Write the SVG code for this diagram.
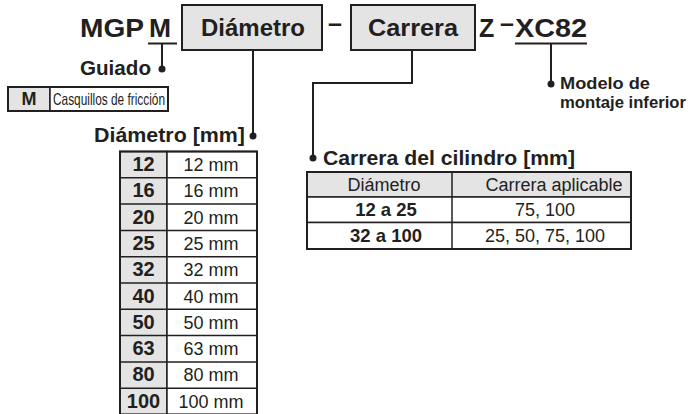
<svg xmlns="http://www.w3.org/2000/svg" width="692" height="414" viewBox="0 0 692 414">
<style>
text{font-family:"Liberation Sans",Arial,sans-serif;fill:#231f20}
.b{font-weight:bold}
.t{font-size:25px;font-weight:bold}
.lbl{font-size:20px;font-weight:bold}
.box{fill:#e4e4e4;stroke:#231f20;stroke-width:2}
.cell{fill:#fff;stroke:#231f20;stroke-width:1.5}
.gcell{fill:#e4e4e4;stroke:#231f20;stroke-width:1.5}
.outer{fill:none;stroke:#231f20;stroke-width:2}
.ln{stroke:#231f20;stroke-width:2;fill:none}
.dot{fill:#231f20}
.num{font-size:20px;font-weight:bold;text-anchor:middle}
.mm{font-size:18px;text-anchor:middle}
</style>
<g id="title">
<text class="t" x="80" y="36.5" textLength="64" lengthAdjust="spacingAndGlyphs">MGP</text>
<text class="t" x="149" y="36.5" textLength="22" lengthAdjust="spacingAndGlyphs">M</text>
<text class="t" x="328" y="32">–</text>
<text class="t" x="479" y="36.5">Z</text>
<text class="t" x="500" y="32">–</text>
<text class="t" x="515" y="36.5" textLength="72" lengthAdjust="spacingAndGlyphs">XC82</text>
</g>
<g id="box-diametro">
<rect class="box" x="182" y="5" width="140" height="45"/>
<text class="t" x="253" y="36" text-anchor="middle" style="font-size:23px" textLength="104" lengthAdjust="spacingAndGlyphs">Diámetro</text>
</g>
<g id="box-carrera">
<rect class="box" x="351" y="5" width="124" height="45"/>
<text class="t" x="413" y="36" text-anchor="middle" style="font-size:23px" textLength="90" lengthAdjust="spacingAndGlyphs">Carrera</text>
</g>
<g id="connectors">
<line class="ln" x1="148" y1="43.5" x2="177" y2="43.5"/>
<line class="ln" x1="162" y1="43.5" x2="162" y2="69"/>
<circle class="dot" cx="162" cy="69" r="3.5"/>
<line class="ln" x1="515" y1="43.5" x2="587" y2="43.5"/>
<line class="ln" x1="551" y1="43.5" x2="551" y2="84"/>
<circle class="dot" cx="551" cy="84" r="3.5"/>
<line class="ln" x1="253" y1="50" x2="253" y2="136"/>
<circle class="dot" cx="253" cy="136" r="3.5"/>
<polyline class="ln" points="412,50 412,83 313,83 313,158"/>
<circle class="dot" cx="313" cy="158" r="3.5"/>
</g>
<g id="guiado">
<text class="lbl" x="151" y="75" text-anchor="end" textLength="71" lengthAdjust="spacingAndGlyphs">Guiado</text>
<rect class="gcell" x="8" y="87" width="42" height="24"/>
<rect class="cell" x="50" y="87" width="118" height="24"/>
<rect class="outer" x="8" y="87" width="160" height="24"/>
<text class="b" x="29" y="105" style="font-size:18px" text-anchor="middle">M</text>
<text x="53" y="105" style="font-size:16.5px" textLength="112" lengthAdjust="spacingAndGlyphs">Casquillos de fricción</text>
</g>
<g id="modelo">
<text class="b" x="560" y="89" style="font-size:17px" textLength="90" lengthAdjust="spacingAndGlyphs">Modelo de</text>
<text class="b" x="560" y="108" style="font-size:17px" textLength="126" lengthAdjust="spacingAndGlyphs">montaje inferior</text>
</g>
<g id="diametro-table">
<text class="lbl" x="245" y="142" text-anchor="end" textLength="151" lengthAdjust="spacingAndGlyphs">Diámetro [mm]</text>
<g>
<rect class="gcell" x="120" y="151.5" width="47" height="263"/>
<rect class="cell" x="167" y="151.5" width="90" height="263"/>
<path class="ln" style="stroke-width:1.5" d="M120 177.8H257M120 204.1H257M120 230.4H257M120 256.7H257M120 283H257M120 309.3H257M120 335.6H257M120 361.9H257M120 388.2H257"/>
<rect class="outer" x="120" y="151.5" width="137" height="263"/>
</g>
<text class="num" x="143.5" y="171">12</text><text class="mm" x="211" y="171">12 mm</text>
<text class="num" x="143.5" y="197.3">16</text><text class="mm" x="211" y="197.3">16 mm</text>
<text class="num" x="143.5" y="223.6">20</text><text class="mm" x="211" y="223.6">20 mm</text>
<text class="num" x="143.5" y="249.9">25</text><text class="mm" x="211" y="249.9">25 mm</text>
<text class="num" x="143.5" y="276.2">32</text><text class="mm" x="211" y="276.2">32 mm</text>
<text class="num" x="143.5" y="302.5">40</text><text class="mm" x="211" y="302.5">40 mm</text>
<text class="num" x="143.5" y="328.8">50</text><text class="mm" x="211" y="328.8">50 mm</text>
<text class="num" x="143.5" y="355.1">63</text><text class="mm" x="211" y="355.1">63 mm</text>
<text class="num" x="143.5" y="381.4">80</text><text class="mm" x="211" y="381.4">80 mm</text>
<text class="num" x="143.5" y="407.7">100</text><text class="mm" x="211" y="407.7">100 mm</text>
</g>
<g id="carrera-table">
<text class="lbl" x="323" y="165" textLength="252" lengthAdjust="spacingAndGlyphs">Carrera del cilindro [mm]</text>
<rect class="gcell" x="307" y="172" width="324" height="25"/>
<rect class="cell" x="307" y="197" width="324" height="25.5"/>
<rect class="cell" x="307" y="222.5" width="324" height="26.5"/>
<line class="ln" style="stroke-width:1.5" x1="452" y1="172" x2="452" y2="249"/>
<rect class="outer" x="307" y="172" width="324" height="77"/>
<text x="384" y="191" style="font-size:18px" text-anchor="middle">Diámetro</text>
<text x="554" y="191" style="font-size:18px" text-anchor="middle">Carrera aplicable</text>
<text class="b" x="386" y="216" style="font-size:18.5px" text-anchor="middle">12 a 25</text>
<text x="545" y="216" style="font-size:18px" text-anchor="middle">75, 100</text>
<text class="b" x="386" y="242" style="font-size:18.5px" text-anchor="middle">32 a 100</text>
<text x="545" y="242" style="font-size:18px" text-anchor="middle">25, 50, 75, 100</text>
</g>
</svg>
